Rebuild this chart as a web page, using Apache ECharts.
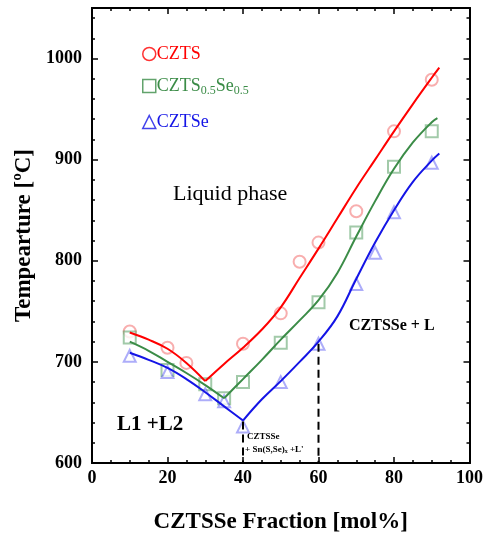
<!DOCTYPE html>
<html>
<head>
<meta charset="utf-8">
<script src="https://cdn.jsdelivr.net/npm/echarts@6/dist/echarts.min.js"></script>
<style>html,body{margin:0;padding:0;background:#fff}#c{width:486px;height:539px}</style>
</head>
<body>
<div id="c"></div>
<script>
// ---- measured data points ----
const cztsX = [10, 20, 25, 40, 50, 55, 60, 70, 80, 90];
const cztsY = [730, 714, 699, 718, 748, 799, 818, 849, 928, 979];
const mixX = [10, 20, 30, 35, 40, 50, 60, 70, 80, 90];
const mixY = [724, 692, 678, 664, 680, 719, 759, 828, 893, 928];
const cztseX = [10, 20, 30, 35, 40, 50, 60, 70, 75, 80, 90];
const cztseY = [706, 690, 668, 661, 636, 680, 718, 777, 808, 848, 897];

// ---- fitted liquidus curves (left and right branches) ----
const cztsFitLX = [10, 15, 20, 25, 30];
const cztsFitLY = [729, 722, 713, 699, 681];
const cztsFitRX = [30, 35, 40, 45, 50, 55, 60, 65, 70, 75, 80, 85, 90, 92];
const cztsFitRY = [681, 698, 714, 732, 754, 783, 812, 842, 872, 900, 928, 955, 981, 991];
const mixFitLX = [10, 15, 20, 25, 30, 35];
const mixFitLY = [720, 711, 700, 689, 677, 664];
const mixFitRX = [35, 40, 45, 50, 55, 60, 65, 70, 75, 80, 85, 90, 91.5];
const mixFitRY = [664, 683, 702, 722, 741, 761, 788, 824, 859, 891, 917, 937, 941];
const cztseFitLX = [10, 15, 20, 25, 30, 35, 40];
const cztseFitLY = [709, 702, 694, 683, 670, 656, 642];
const cztseFitRX = [40, 45, 50, 55, 60, 65, 70, 75, 80, 85, 90, 92];
const cztseFitRY = [642, 663, 681, 700, 720, 745, 782, 818, 850, 878, 899, 906];

// ---- phase boundary guides ----
const guideX = [40, 60];
const guideTop = [641, 718];
const guideBottom = [600, 600];

// ---- axes ----
const xMin = 0, xMax = 100, xStep = 20;
const yMin = 600, yMax = 1050, yStep = 100, yMinor = 20;

const names = ['CZTS', 'CZTS0.5Se0.5', 'CZTSe'];
const lineColors = ['#ff0000', '#3b8c47', '#1414e6'];
const markColors = ['rgba(240,70,70,0.55)', 'rgba(60,145,75,0.6)', 'rgba(50,50,240,0.5)'];
const symbols = ['emptyCircle', 'emptyRect', 'emptyTriangle'];
const FONT = '"Liberation Serif", "Times New Roman", serif';

const zip = (a, b) => a.map((v, i) => [v, b[i]]);

function fit(name, xs, ys, color) {
  return { name: name, type: 'line', data: zip(xs, ys), smooth: 0.4, showSymbol: false,
    lineStyle: { color: color, width: 2 }, z: 3, silent: true };
}
function pts(i, xs, ys) {
  return { name: names[i], type: 'scatter', data: zip(xs, ys), symbol: symbols[i], symbolSize: 12,
    itemStyle: { color: markColors[i], borderWidth: 1.4 }, z: 2 };
}

const series = [
  pts(0, cztsX, cztsY), pts(1, mixX, mixY), pts(2, cztseX, cztseY),
  fit('czts-fit-l', cztsFitLX, cztsFitLY, lineColors[0]),
  fit('czts-fit-r', cztsFitRX, cztsFitRY, lineColors[0]),
  fit('mix-fit-l', mixFitLX, mixFitLY, lineColors[1]),
  fit('mix-fit-r', mixFitRX, mixFitRY, lineColors[1]),
  fit('cztse-fit-l', cztseFitLX, cztseFitLY, lineColors[2]),
  fit('cztse-fit-r', cztseFitRX, cztseFitRY, lineColors[2])
];
guideX.forEach((gx, i) => {
  series.push({ name: 'guide' + i, type: 'line', data: [[gx, guideTop[i]], [gx, guideBottom[i]]],
    showSymbol: false, silent: true, z: 4,
    lineStyle: { color: '#000', width: 2, type: [8, 5] } });
});

const axisLineStyle = { show: true, lineStyle: { color: '#000', width: 2 } };
function yAx(pos, major, labels) {
  return {
    type: 'value', position: pos, min: yMin, max: yMax, interval: major ? yStep : yMinor,
    axisLine: axisLineStyle,
    axisTick: { show: true, inside: true, length: major ? 6 : 3, lineStyle: { color: '#000', width: 1.5 } },
    axisLabel: { show: labels, margin: 10, showMaxLabel: false, formatter: v => String(v),
      fontFamily: FONT, fontWeight: 'bold', fontSize: 18, color: '#000' },
    splitLine: { show: false },
    name: labels ? 'Tempearture [ºC]' : '', nameLocation: 'middle', nameGap: 53,
    nameTextStyle: { fontFamily: FONT, fontWeight: 'bold', fontSize: 23, color: '#000' }
  };
}
function xAx(pos, labels) {
  return {
    type: 'value', position: pos, min: xMin, max: xMax, interval: xStep,
    axisLine: axisLineStyle,
    axisTick: { show: true, inside: true, length: 6, lineStyle: { color: '#000', width: 1.5 } },
    minorTick: { show: true, splitNumber: 4, length: 3, lineStyle: { color: '#000', width: 1.5 } },
    axisLabel: { show: labels, margin: 6, fontFamily: FONT, fontWeight: 'bold', fontSize: 18, color: '#000' },
    splitLine: { show: false }, minorSplitLine: { show: false },
    name: labels ? 'CZTSSe Fraction [mol%]' : '', nameLocation: 'middle', nameGap: 48,
    nameTextStyle: { fontFamily: FONT, fontWeight: 'bold', fontSize: 23, color: '#000' }
  };
}

const legendTops = [40, 72, 108];
const legends = names.map((n, i) => ({
  data: [{ name: n, icon: ['circle', 'rect', 'triangle'][i],
    itemStyle: { color: '#fff', borderColor: lineColors[i], borderWidth: 1.5 } }],
  left: 137, top: legendTops[i], itemWidth: 13, itemHeight: 13, itemGap: 2,
  selectedMode: false,
  formatter: i === 1 ? '{m|CZTS}{s|0.5}{m|Se}{s|0.5}' : '{m|{name}}',
  textStyle: {
    padding: [0, 0, 0, -4],
    rich: {
      m: { fontFamily: FONT, fontSize: 18, color: lineColors[i] },
      s: { fontFamily: FONT, fontSize: 12, color: lineColors[i], padding: [9, 0, 0, 0] }
    }
  }
}));

const chart = echarts.init(document.getElementById('c'), null, { renderer: 'canvas' });
chart.setOption({
  animation: false,
  backgroundColor: '#fff',
  grid: { left: 92, right: 16, top: 8, bottom: 76, containLabel: false },
  xAxis: [xAx('bottom', true), xAx('top', false)],
  yAxis: [yAx('left', true, true), yAx('left', false, false), yAx('right', true, false), yAx('right', false, false)],
  legend: legends,
  series: series,
  graphic: [
    { type: 'text', left: 173, top: 183, style: { text: 'Liquid phase', font: '22px ' + FONT, fill: '#000' } },
    { type: 'text', left: 349, top: 318, style: { text: 'CZTSSe + L', font: 'bold 16px ' + FONT, fill: '#000' } },
    { type: 'text', left: 117, top: 414, style: { text: 'L1 +L2', font: 'bold 21px ' + FONT, fill: '#000' } },
    { type: 'text', left: 247, top: 432, style: { text: 'CZTSSe', font: 'bold 9px ' + FONT, fill: '#000' } },
    { type: 'text', left: 245, top: 445, style: { rich: { a: { font: 'bold 9px ' + FONT, fill: '#000' }, b: { font: 'bold 6px ' + FONT, fill: '#000', padding: [4, 0, 0, 0] } },
      text: '{a|+ Sn(S,Se)}{b|x}{a| +L\'}' } }
  ]
});
</script>
</body>
</html>
